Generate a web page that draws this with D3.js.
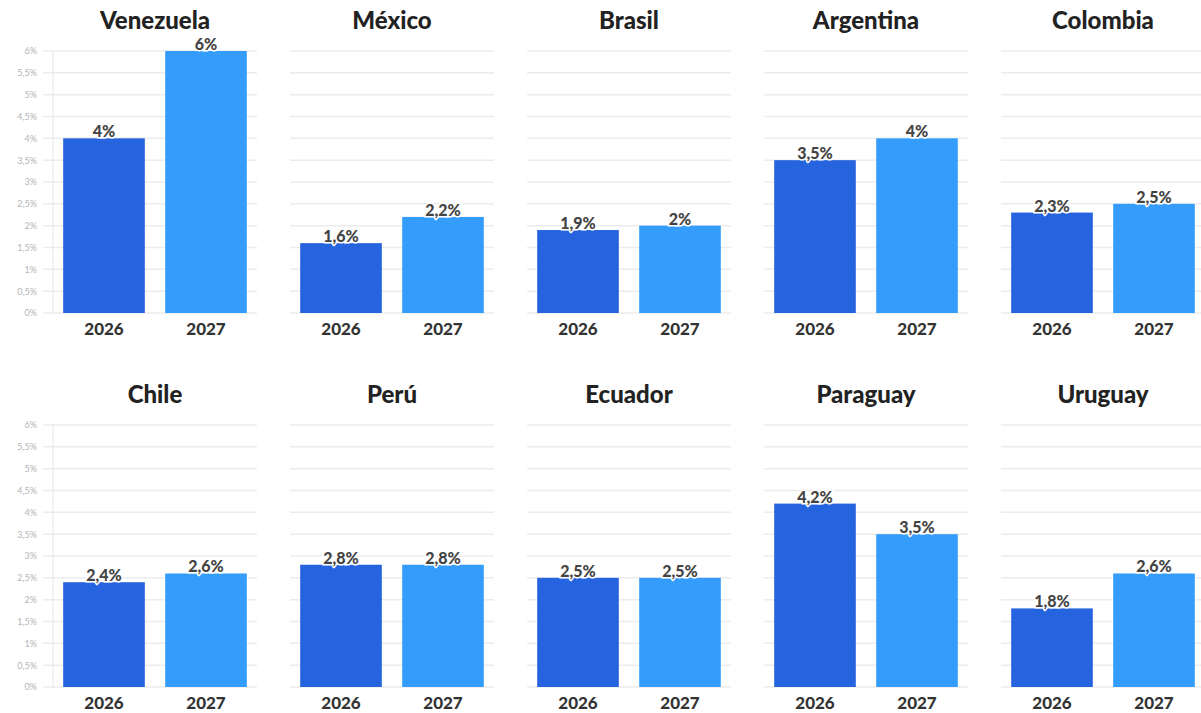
<!DOCTYPE html>
<html><head><meta charset="utf-8">
<script src="https://cdn.jsdelivr.net/npm/d3@7"></script>
<style>body{margin:0;background:#fff;}svg{display:block;}</style>
</head><body>
<svg id="c" width="1201" height="713"></svg>
<script>
const countries = ["Venezuela","México","Brasil","Argentina","Colombia","Chile","Perú","Ecuador","Paraguay","Uruguay"];
const years = ["2026","2027"];
const values2026 = [4, 1.6, 1.9, 3.5, 2.3, 2.4, 2.8, 2.5, 4.2, 1.8];
const values2027 = [6, 2.2, 2, 4, 2.5, 2.6, 2.8, 2.5, 3.5, 2.6];
const yTicks = [0,0.5,1,1.5,2,2.5,3,3.5,4,4.5,5,5.5,6];

const colors = {"2026":"#2563df","2027":"#349dfc"};
const svg = d3.select("#c");
const fmt = v => String(v).replace(".", ",") + "%";
const font = "Lato, 'Noto Sans', sans-serif";

const colX = d3.scaleLinear().domain([0,1]).range([53, 290]);
const rowY = d3.scaleLinear().domain([0,1]).range([51, 425]);
const pw = 204, ph = 262;

countries.forEach((name, i) => {
  const col = i % 5, row = Math.floor(i / 5);
  const x0 = colX(col), y0 = rowY(row);
  const g = svg.append("g").attr("transform", `translate(${x0},${y0})`);
  const x = d3.scaleBand().domain(years).range([0, pw]).paddingInner(0.2).paddingOuter(0.1);
  const y = d3.scaleLinear().domain([0, 6]).range([ph, 0]);

  // gridlines
  g.selectAll("line.grid").data(yTicks).join("line")
    .attr("x1", col === 0 ? -10 : 0).attr("x2", pw)
    .attr("y1", d => y(d)).attr("y2", d => y(d))
    .attr("stroke", "#ececec").attr("stroke-width", 1.5);

  if (col === 0) {
    g.append("line").attr("x1", 0).attr("x2", 0).attr("y1", 0).attr("y2", ph)
      .attr("stroke", "#e6e6e6").attr("stroke-width", 1);
    const ax = d3.axisLeft(y).tickValues(yTicks).tickFormat(fmt).tickSize(0).tickPadding(16);
    const a = g.append("g").call(ax);
    a.select(".domain").remove();
    a.selectAll("text").attr("fill", "#b4b4b4").style("font-size", "9px").style("font-family", font);
  }

  const data = [{year:"2026", v: values2026[i]}, {year:"2027", v: values2027[i]}];
  g.selectAll("rect.bar").data(data).join("rect")
    .attr("x", d => x(d.year)).attr("width", x.bandwidth())
    .attr("y", d => y(d.v)).attr("height", d => ph - y(d.v))
    .attr("fill", d => colors[d.year]);

  g.selectAll("text.val").data(data).join("text")
    .attr("x", d => x(d.year) + x.bandwidth()/2).attr("y", d => y(d.v) - 1)
    .attr("text-anchor", "middle")
    .style("font-family", font).style("font-weight", "900").style("font-size", "16px")
    .attr("fill", "#444").attr("stroke", "#fff").attr("stroke-width", 3).attr("paint-order", "stroke")
    .text(d => fmt(d.v));

  const xa = d3.axisBottom(x).tickSize(0).tickPadding(10);
  const xg = g.append("g").attr("transform", `translate(0,${ph})`).call(xa);
  xg.select(".domain").remove();
  xg.selectAll("text").attr("fill", "#333").style("font-family", font)
    .style("font-weight", "900").style("font-size", "17px");

  g.append("text").attr("x", pw/2).attr("y", -22).attr("text-anchor", "middle")
    .style("font-family", font).style("font-weight", "900").style("font-size", "24px")
    .attr("fill", "#222").text(name);
});
</script>
</body></html>
